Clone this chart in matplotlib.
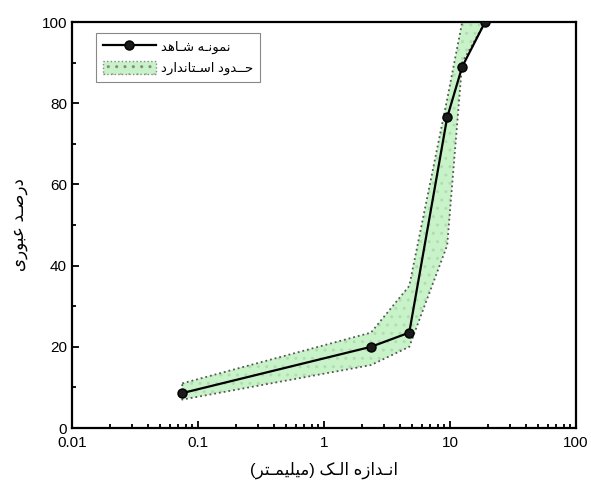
import matplotlib
matplotlib.use('Agg')
import matplotlib.pyplot as plt
from matplotlib.lines import Line2D
from matplotlib.patches import Patch
from matplotlib.ticker import FixedLocator, FuncFormatter, LogLocator, NullFormatter

plt.rcParams['font.family'] = ['Liberation Sans', 'DejaVu Sans']

# sieve sizes (mm) and percent passing
sieve = [0.075, 2.36, 4.75, 9.5, 12.5, 19]
passing = [8.6, 20.0, 23.5, 76.5, 89.0, 100.0]
# standard limits
spec_lo = [7, 15.5, 20, 45, 90, 100]
spec_hi = [11, 23.5, 35, 81, 100, 100]

xticks = [0.01, 0.1, 1, 10, 100]
yticks = [0, 20, 40, 60, 80, 100]

lbl_sample = 'نمونـه شـاهد'
lbl_spec = 'حــدود اسـتاندارد'
xlabel = 'انـدازه الـک (میلیمـتر)'
ylabel = 'درصـد عبوری'

# simple arabic/persian shaping (isolated, final, initial, medial)
FORMS = {
    'ا': ('\uFE8D', '\uFE8E', None, None),
    'ب': ('\uFE8F', '\uFE90', '\uFE91', '\uFE92'),
    'ت': ('\uFE95', '\uFE96', '\uFE97', '\uFE98'),
    'ح': ('\uFEA1', '\uFEA2', '\uFEA3', '\uFEA4'),
    'د': ('\uFEA9', '\uFEAA', None, None),
    'ر': ('\uFEAD', '\uFEAE', None, None),
    'ز': ('\uFEAF', '\uFEB0', None, None),
    'س': ('\uFEB1', '\uFEB2', '\uFEB3', '\uFEB4'),
    'ش': ('\uFEB5', '\uFEB6', '\uFEB7', '\uFEB8'),
    'ص': ('\uFEB9', '\uFEBA', '\uFEBB', '\uFEBC'),
    'ع': ('\uFEC9', '\uFECA', '\uFECB', '\uFECC'),
    'ل': ('\uFEDD', '\uFEDE', '\uFEDF', '\uFEE0'),
    'م': ('\uFEE1', '\uFEE2', '\uFEE3', '\uFEE4'),
    'ن': ('\uFEE5', '\uFEE6', '\uFEE7', '\uFEE8'),
    'ه': ('\uFEE9', '\uFEEA', '\uFEEB', '\uFEEC'),
    'و': ('\uFEED', '\uFEEE', None, None),
    'ک': ('\uFB8E', '\uFB8F', '\uFB90', '\uFB91'),
    'ی': ('\uFBFC', '\uFBFD', '\uFBFE', '\uFBFF'),
    'ـ': ('\u0640', '\u0640', '\u0640', '\u0640'),
}


def fa(s):
    out = []
    for i, c in enumerate(s):
        if c not in FORMS:
            out.append(c)
            continue
        prev = s[i - 1] if i > 0 else ''
        nxt = s[i + 1] if i + 1 < len(s) else ''
        jp = prev in FORMS and FORMS[prev][2] is not None
        jn = nxt in FORMS and FORMS[c][2] is not None
        iso, fin, ini, med = FORMS[c]
        if jp and jn:
            out.append(med)
        elif jp:
            out.append(fin)
        elif jn:
            out.append(ini)
        else:
            out.append(iso)
    vis = ''.join(reversed(out))
    return vis.translate(str.maketrans('()', ')('))


green = '#c8f3c8'

fig = plt.figure(figsize=(5.91, 4.86), dpi=100)
ax = fig.add_axes([0.1218, 0.1193, 0.8528, 0.8354])

ax.fill_between(sieve, spec_lo, spec_hi, facecolor=green, edgecolor='none', lw=0, zorder=1)
ax.fill_between(sieve, spec_lo, spec_hi, facecolor='none', edgecolor='#b4dcb4', hatch='..', lw=0, zorder=1)
ax.plot(sieve + sieve[::-1] + sieve[:1], spec_hi + spec_lo[::-1] + spec_hi[:1],
        ls=':', color='#555555', lw=1.3, zorder=2)
ax.plot(sieve, passing, color='black', lw=1.6, marker='o', ms=6.5,
        mfc='#1a1a1a', mec='black', zorder=3)

ax.set_xscale('log')
ax.set_xlim(0.01, 100)
ax.set_ylim(0, 100)
ax.xaxis.set_major_locator(FixedLocator(xticks))
ax.xaxis.set_major_formatter(FuncFormatter(lambda v, p: '%g' % v))
ax.xaxis.set_minor_locator(LogLocator(base=10, subs=range(2, 10), numticks=20))
ax.xaxis.set_minor_formatter(NullFormatter())
ax.set_yticks(yticks)
ax.set_yticks(range(10, 100, 20), minor=True)

ax.tick_params(which='both', direction='in', top=False, right=False, labelsize=11, width=1.3)
ax.tick_params(which='major', length=5)
ax.tick_params(which='minor', length=3)
ax.tick_params(axis='x', pad=6)
for sp in ax.spines.values():
    sp.set_linewidth(1.6)

ax.set_xlabel(fa(xlabel), fontsize=12, labelpad=8)
ax.set_ylabel(fa(ylabel), fontsize=12, labelpad=10)

handles = [
    Line2D([], [], color='black', lw=1.6, marker='o', ms=6.5, mfc='#1a1a1a', mec='black'),
    Patch(facecolor=green, edgecolor='#888888', linestyle=':', hatch='..', lw=1),
]
leg = ax.legend(handles, [fa(lbl_sample), fa(lbl_spec)], loc='upper left',
                bbox_to_anchor=(0.048, 0.973), fontsize=9.5, fancybox=False,
                edgecolor='#888888', framealpha=1, handlelength=4.0, handleheight=1.2,
                borderpad=0.5, labelspacing=0.5, handletextpad=0.4, borderaxespad=0)
leg.get_frame().set_linewidth(0.8)

fig.savefig('out.png', dpi=100)
